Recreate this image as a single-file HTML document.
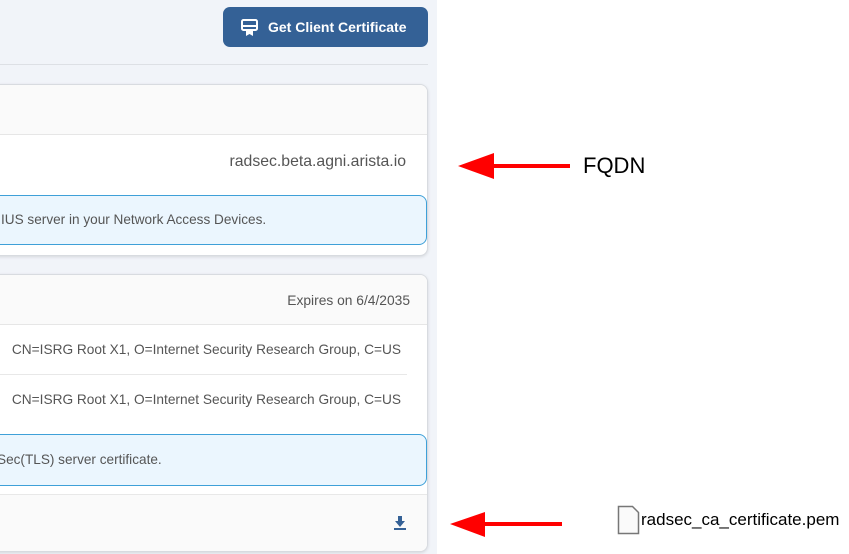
<!DOCTYPE html>
<html><head><style>
body{margin:0;width:849px;height:554px;position:relative;overflow:hidden;background:#fff;font-family:"Liberation Sans",sans-serif}
.left{position:absolute;left:0;top:0;width:437px;height:554px;background:#f1f4f9}
.btn{position:absolute;left:223px;top:7px;width:205px;height:40px;background:#346196;border-radius:7px;color:#fff;font-weight:bold;font-size:14px;line-height:40px}
.card{position:absolute;left:-10px;width:436px;background:#fff;border:1px solid #d8dbe0;border-radius:8px;box-shadow:0 1px 3px rgba(0,0,0,.12);overflow:hidden}
.hd{background:#fafafa;border-bottom:1px solid #e6e6e6;position:relative}
.t{position:absolute;color:#555;font-size:14px;white-space:nowrap}
.info{position:absolute;left:0;width:434px;background:#ebf6fe;border:1px solid #3ea0d8;border-radius:8px}
</style></head><body>
<div class="left"></div>
<div class="btn"><svg style="position:absolute;left:18px;top:12px" width="17" height="17" viewBox="0 0 17 17"><rect x="1" y="1" width="15" height="10" rx="1.5" fill="none" stroke="#fff" stroke-width="2"/><rect x="1" y="6" width="15" height="2" fill="#fff"/><path d="M5 11h7v6l-3.5-2-3.5 2z" fill="#fff"/></svg><span style="position:absolute;left:45px">Get Client Certificate</span></div>
<div style="position:absolute;left:0;top:64px;width:428px;height:1px;background:#dde0e5"></div>

<div class="card" style="top:84px;height:170px">
 <div class="hd" style="height:49px"></div>
 <div class="t" style="right:21px;top:68px;font-size:15.8px">radsec.beta.agni.arista.io</div>
 <div class="info" style="top:110px;height:48px"><div class="t" style="left:9px;top:16px;font-size:13.6px">IUS server in your Network Access Devices.</div></div>
</div>

<div class="card" style="top:274px;height:276px">
 <div class="hd" style="height:49px"><div class="t" style="right:17px;top:18px;font-size:13.8px">Expires on 6/4/2035</div></div>
 <div class="t" style="right:26px;top:67px;font-size:13.7px">CN=ISRG Root X1, O=Internet Security Research Group, C=US</div>
 <div style="position:absolute;left:0;right:20px;top:99px;height:1px;background:#e8e8e8"></div>
 <div class="t" style="right:26px;top:117px;font-size:13.7px">CN=ISRG Root X1, O=Internet Security Research Group, C=US</div>
 <div class="info" style="top:159px;height:50px"><div class="t" style="left:5px;top:17px;font-size:13.6px">Sec(TLS) server certificate.</div></div>
 <div style="position:absolute;left:0;right:0;top:219px;bottom:0;background:#fafafa;border-top:1px solid #e8e8e8"></div>
 <svg style="position:absolute;left:402px;top:240px" width="14" height="16" viewBox="0 0 14 16"><path d="M5 1h4v5h3l-5 6-5-6h3z" fill="#346196"/><rect x="1" y="13" width="12" height="2" fill="#346196"/></svg>
</div>

<svg style="position:absolute;left:0;top:0" width="849" height="554">
 <line x1="490" y1="166" x2="570" y2="166" stroke="#f00" stroke-width="4"/>
 <polygon points="458,166 494,153 494,179" fill="#f00"/>
 <line x1="480" y1="524" x2="562" y2="524" stroke="#f00" stroke-width="4"/>
 <polygon points="450,524 485,512 485,537" fill="#f00"/>
 <path d="M618.5 506.5h14l6 6v21h-20z" fill="#fafafa" stroke="#777" stroke-width="1.5"/>
</svg>
<div style="position:absolute;left:583px;top:153px;font-size:22px;color:#000">FQDN</div>
<div style="position:absolute;left:641px;top:510px;font-size:17px;color:#000">radsec_ca_certificate.pem</div>
</body></html>
